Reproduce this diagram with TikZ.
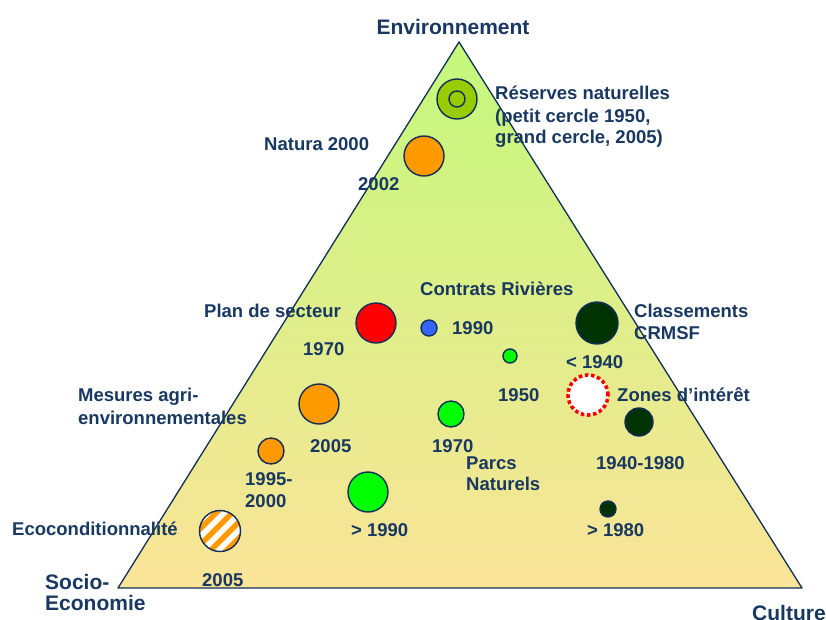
\documentclass[tikz,border=0pt]{standalone}
\usepackage{fontspec}
\setmainfont{Liberation Sans}
\definecolor{navytext}{RGB}{24,56,98}
\definecolor{navyline}{RGB}{16,46,88}
\definecolor{gtop}{RGB}{196,248,124}
\definecolor{gbot}{RGB}{250,228,152}
\definecolor{dorange}{RGB}{255,153,0}
\definecolor{dred}{RGB}{255,0,0}
\definecolor{dblue}{RGB}{51,102,255}
\definecolor{dgreen}{RGB}{0,255,0}
\definecolor{ddark}{RGB}{0,51,0}
\definecolor{dolive}{RGB}{153,204,0}
\begin{document}
\begin{tikzpicture}[x=1pt,y=-1pt,
  lbl/.style={font=\fontsize{18.5}{22}\selectfont\bfseries, text=navytext, inner sep=0pt, anchor=base west},
  axislbl/.style={font=\fontsize{21}{25}\selectfont\bfseries, text=navytext, inner sep=0pt, anchor=base west},
  disc/.style={circle, draw=navyline, line width=1.4pt, inner sep=0pt, minimum size=#1},
]
\useasboundingbox (0,0) rectangle (826,619);

% the triangle
\coordinate (apex) at (459,42);
\coordinate (bl) at (118,588);
\coordinate (br) at (802,588);
\shade[top color=gtop, bottom color=gbot] (apex) -- (bl) -- (br) -- cycle;
\draw[navyline, line width=1.3pt, line join=round] (apex) -- (bl) -- (br) -- cycle;

% corner labels
\node[axislbl, anchor=base] (env) at (453,34.5) {Environnement};
\node[axislbl] (socio1) at (45,589.5) {Socio-};
\node[axislbl] (socio2) at (45,610.5) {Economie};
\node[axislbl] (cult) at (752,620.5) {Culture};

% Reserves naturelles
\node[disc=40, fill=dolive] (resbig) at (457,99) {};
\node[disc=16, fill=dolive] (ressmall) at (457,99) {};
\node[lbl] (res1) at (495,99.5) {Réserves naturelles};
\node[lbl] (res2) at (495,122.5) {(petit cercle 1950,};
\node[lbl] (res3) at (495,143.5) {grand cercle, 2005)};

% Natura 2000
\node[disc=40, fill=dorange] (natura) at (424,156) {};
\node[lbl] (natural) at (264,150.5) {Natura 2000};
\node[lbl] (naturay) at (358,190.5) {2002};

% Plan de secteur
\node[disc=40, fill=dred] (plan) at (376,323) {};
\node[lbl] (planl) at (204,317.5) {Plan de secteur};
\node[lbl] (plany) at (303,355.5) {1970};

% Contrats Rivieres
\node[disc=16, fill=dblue] (contrat) at (429,328) {};
\node[lbl] (contratl) at (420,295.5) {Contrats Rivières};
\node[lbl] (contraty) at (452,334.5) {1990};

% Parcs naturels
\node[disc=14, fill=dgreen] (parc1) at (510,356) {};
\node[lbl] (parc1y) at (498,401.5) {1950};
\node[disc=26, fill=dgreen] (parc2) at (451,414) {};
\node[lbl] (parc2y) at (432,452.5) {1970};
\node[disc=40, fill=dgreen] (parc3) at (368,492) {};
\node[lbl] (parc3y) at (351,536.5) {> 1990};
\node[lbl] (parcl1) at (466,469.5) {Parcs};
\node[lbl] (parcl2) at (466,490.5) {Naturels};

% Classements CRMSF
\node[disc=42, fill=ddark] (crmsf) at (597,323) {};
\node[lbl] (crmsfl1) at (634,317.5) {Classements};
\node[lbl] (crmsfl2) at (634,339.5) {CRMSF};
\node[lbl] (crmsfy) at (566,368.5) {< 1940};

% Zones d'interet
\node[circle, draw=dred, fill=white, line width=3.6pt, dash pattern=on 3.6pt off 2.6pt, inner sep=0pt, minimum size=40] (zones) at (588,395) {};
\node[lbl] (zonesl) at (617,401.5) {Zones d’intérêt};
\node[disc=28, fill=ddark] (zones2) at (639,422) {};
\node[lbl] (zones2y) at (596,469.5) {1940-1980};
\node[disc=16, fill=ddark] (zones3) at (608,509) {};
\node[lbl] (zones3y) at (587,536.5) {> 1980};

% Mesures agri-environnementales
\node[disc=40, fill=dorange] (mae1) at (319,404) {};
\node[lbl] (mae1y) at (310,452.5) {2005};
\node[disc=26, fill=dorange] (mae2) at (271,451) {};
\node[lbl] (mae2y1) at (245,485.5) {1995-};
\node[lbl] (mae2y2) at (245,507.5) {2000};
\node[lbl] (mael1) at (78,401.5) {Mesures agri-};
\node[lbl] (mael2) at (78,424.5) {environnementales};

% Ecoconditionnalite: striped disc
\begin{scope}
  \clip (220,531) circle (20.5);
  \fill[white] (220,531) circle (21);
  \begin{scope}[shift={(220,531)}]
    \foreach \k in {-38,-22,-6,10,26}
      \draw[dorange, line width=5.5pt] (\k-30,30) -- (\k+30,-30);
  \end{scope}
\end{scope}
\node[disc=41] (eco) at (220,531) {};
\node[lbl] (ecol) at (12,535.5) {Ecoconditionnalité};
\node[lbl] (ecoy) at (202,586.5) {2005};
\end{tikzpicture}
\end{document}
